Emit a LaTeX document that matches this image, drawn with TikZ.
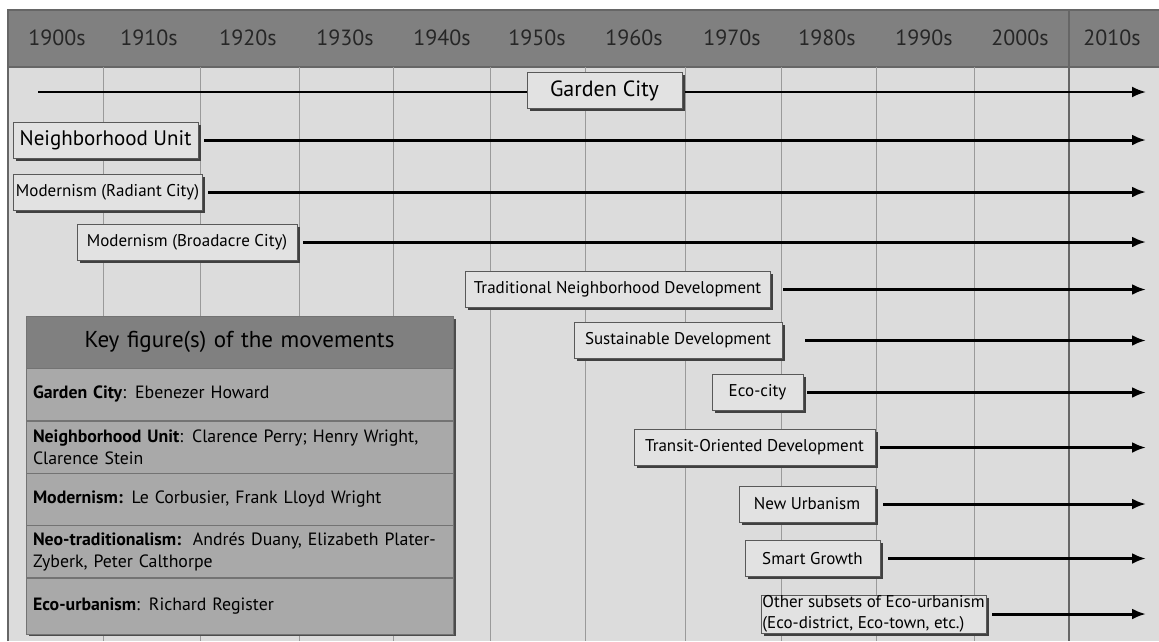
\documentclass[tikz,border=0pt]{standalone}
\usepackage{fontspec}
\setmainfont{PT Sans}
\usetikzlibrary{arrows.meta,shadows}
\definecolor{hdrgray}{HTML}{808080}
\definecolor{bodygray}{HTML}{DCDCDC}
\definecolor{boxgray}{HTML}{E2E2E2}
\definecolor{keygray}{HTML}{A9A9A9}
\definecolor{gridgray}{HTML}{9A9A9A}
\begin{document}
\begin{tikzpicture}[x=1pt,y=-1pt,
    movebox/.style={draw=black!65,fill=boxgray,line width=0.8pt,inner sep=0pt,
      minimum height=36pt,font=\fontsize{17}{20}\selectfont,
      drop shadow={shadow xshift=2.5pt,shadow yshift=-2.5pt,fill=black!75,opacity=1}},
    trend/.style={line width=3pt,-{Latex[length=14pt,width=11pt]}},
    yearlbl/.style={font=\fontsize{22}{25}\selectfont,text=black!85},
    keyrow/.style={draw=black!55,fill=keygray,minimum height=52pt,text width=413pt,
      inner xsep=7pt,inner ysep=0pt,align=left,font=\fontsize{17.8}{22}\selectfont}]
  % frame
  \useasboundingbox (0,0) rectangle (1159,641);
  \fill[bodygray] (8,67) rectangle (1159,641);
  \fill[hdrgray] (8,10) rectangle (1159,67);
  \draw[black!60,line width=1.2pt] (8,641) -- (8,10) -- (1159,10);
  \draw[black!60,line width=1.2pt] (8,67) -- (1159,67);
  \foreach \gx in {103,200,299,393,490,585,685,781,876,974}
    \draw[gridgray,line width=1pt] (\gx,67) -- (\gx,641);
  \draw[black!60,line width=1.2pt] (1069,10) -- (1069,641);
  % decades
  \foreach \yr/\cx in {1900/57,1910/149,1920/248,1930/345,1940/442,1950/537,
      1960/634,1970/732,1980/827,1990/924,2000/1020,2010/1112}
    \node[yearlbl] (y\yr) at (\cx,38) {\yr s};
  \coordinate (tip) at (1146,0);
  % garden city
  \coordinate (gcstart) at (38,92);
  \draw[trend,line width=2.2pt] (gcstart) -- (gcstart -| tip);
  \node[movebox,minimum width=155pt,font=\fontsize{22}{26}\selectfont] (garden) at (604.5,90.5) {Garden City};
  % movements
  \node[movebox,minimum width=185pt,font=\fontsize{21}{25}\selectfont] (nbh) at (105.5,140) {Neighborhood Unit};
  \node[movebox,minimum width=189pt] (radiant) at (107.5,192) {Modernism (Radiant City)};
  \node[movebox,minimum width=220pt] (broad) at (187,242) {Modernism (Broadacre City)};
  \node[movebox,minimum width=305pt] (tnd) at (617.5,289.5) {Traditional Neighborhood Development};
  \node[movebox,minimum width=208pt] (sust) at (678,340.5) {Sustainable Development};
  \node[movebox,minimum width=91pt] (eco) at (757.5,392.5) {Eco-city};
  \node[movebox,minimum width=241pt] (tod) at (754.5,447.5) {Transit-Oriented Development};
  \node[movebox,minimum width=136pt] (newurb) at (807,504) {New Urbanism};
  \node[movebox,minimum width=135pt] (smart) at (812.5,558.5) {Smart Growth};
  \node[movebox,minimum width=225pt,minimum height=38pt,align=left,
    font=\fontsize{17}{21}\selectfont] (other) at (873.5,614)
    {Other subsets of Eco-urbanism\\(Eco-district, Eco-town, etc.)};
  \draw[trend] ([xshift=6pt]nbh.east) -- (nbh.east -| tip);
  \draw[trend] ([xshift=6pt]radiant.east) -- (radiant.east -| tip);
  \draw[trend] ([xshift=6pt]broad.east) -- (broad.east -| tip);
  \draw[trend] ([xshift=13pt]tnd.east) -- (tnd.east -| tip);
  \draw[trend] ([xshift=23pt]sust.east) -- (sust.east -| tip);
  \draw[trend] ([xshift=4pt]eco.east) -- (eco.east -| tip);
  \draw[trend] ([xshift=5pt]tod.east) -- (tod.east -| tip);
  \draw[trend] ([xshift=8pt]newurb.east) -- (newurb.east -| tip);
  \draw[trend] ([xshift=8pt]smart.east) -- (smart.east -| tip);
  \draw[trend] ([xshift=6pt]other.east) -- (other.east -| tip);
  % key figures table
  \fill[black!70] (29,319) rectangle (456,636);
  \node[keyrow,fill=hdrgray,align=center,font=\fontsize{23}{26}\selectfont] (keyhead) at (239.5,342) {Key figure(s) of the movements};
  \node[keyrow,anchor=north] (kgarden) at (keyhead.south) {\textbf{Garden City}: Ebenezer Howard};
  \node[keyrow,anchor=north] (knbh) at (kgarden.south) {\textbf{Neighborhood Unit}: Clarence Perry; Henry Wright,\\Clarence Stein};
  \node[keyrow,anchor=north] (kmod) at (knbh.south) {\textbf{Modernism:} Le Corbusier, Frank Lloyd Wright};
  \node[keyrow,anchor=north] (kneo) at (kmod.south) {\textbf{Neo-traditionalism:}\ \ Andrés Duany, Elizabeth Plater-\\Zyberk, Peter Calthorpe};
  \node[keyrow,anchor=north,minimum height=56pt] (keco) at (kneo.south) {\textbf{Eco-urbanism}: Richard Register};
\end{tikzpicture}
\end{document}
